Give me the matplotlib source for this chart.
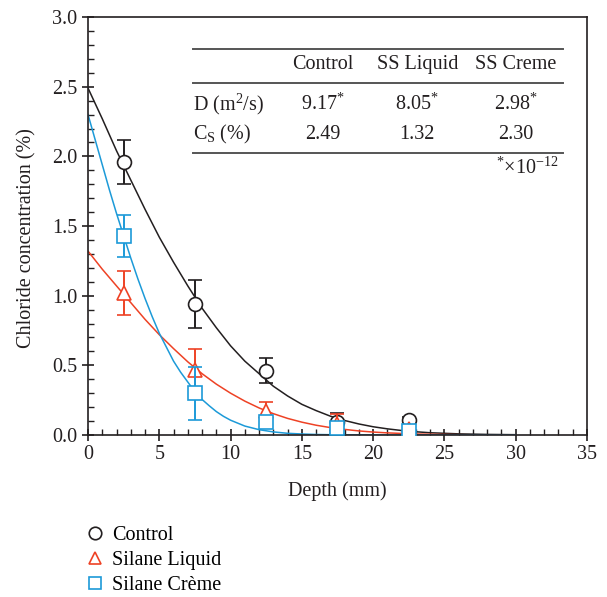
import numpy as np
import matplotlib
matplotlib.use("Agg")
import matplotlib.pyplot as plt
from matplotlib.lines import Line2D

plt.rcParams['font.family'] = ['Liberation Serif', 'DejaVu Serif']
plt.rcParams['mathtext.fontset'] = 'custom'
plt.rcParams['mathtext.rm'] = 'Liberation Serif'
plt.rcParams['mathtext.it'] = 'Liberation Serif:italic'

# measured points
depth = [2.5, 7.5, 12.5, 17.5, 22.5]
control = [1.96, 0.94, 0.46, 0.09, 0.11]
control_err = [0.16, 0.17, 0.09, 0.07, 0.02]
liquid = [1.02, 0.47, 0.17, 0.08, 0.04]
liquid_err = [0.16, 0.15, 0.07, 0.07, 0.02]
creme = [1.43, 0.30, 0.09, 0.05, 0.03]
creme_err = [0.15, 0.19, 0.03, 0.03, 0.01]

# fitted curves
fit_x = list(range(0, 31))
fit_control = [2.49, 2.27, 2.04, 1.83, 1.62, 1.42, 1.24, 1.07, 0.91, 0.77, 0.64,
               0.53, 0.44, 0.35, 0.28, 0.22, 0.175, 0.135, 0.104, 0.079, 0.059,
               0.044, 0.032, 0.023, 0.016, 0.012, 0.008, 0.006, 0.004, 0.003, 0.002]
fit_liquid = [1.32, 1.19, 1.07, 0.95, 0.83, 0.72, 0.62, 0.525, 0.44, 0.365, 0.30,
              0.243, 0.194, 0.153, 0.119, 0.092, 0.070, 0.053, 0.040, 0.029, 0.021,
              0.015, 0.011, 0.007, 0.005, 0.0034, 0.002, 0.0015, 0.001, 0.0007, 0.0005]
fit_creme_x = [0, 0.5, 1, 1.5, 2, 2.5, 3, 3.5, 4, 4.5, 5, 5.5, 6, 6.5, 7, 7.5, 8,
               8.5, 9, 9.5, 10, 11, 12, 13, 14, 15, 16, 17, 18, 20, 25, 30]
fit_creme = [2.30, 2.12, 1.94, 1.76, 1.59, 1.43, 1.27, 1.12, 0.98, 0.85, 0.73, 0.63,
             0.53, 0.45, 0.38, 0.31, 0.255, 0.21, 0.168, 0.134, 0.106, 0.064, 0.038,
             0.022, 0.012, 0.007, 0.0035, 0.002, 0.001, 0.0, 0.0, 0.0]

# table contents
col_heads = ['Control', 'SS Liquid', 'SS Creme']
d_vals = ['9.17$^{*}$', '8.05$^{*}$', '2.98$^{*}$']
cs_vals = ['2.49', '1.32', '2.30']

black = '#231f20'
red = '#ee4225'
blue = '#1c9ad8'
fs = 14.5

fig = plt.figure(figsize=(6.07, 5.97), dpi=100)
ax = fig.add_axes([0.145, 0.2714, 0.822, 0.700])

ax.plot(fit_x, fit_control, color=black, lw=1.1, zorder=2)
ax.plot(fit_x, fit_liquid, color=red, lw=1.1, zorder=2)
ax.plot(fit_creme_x, fit_creme, color=blue, lw=1.1, zorder=2)

ax.errorbar(depth, control, yerr=control_err, fmt='o', color=black, mfc='white',
            mec=black, ms=10, mew=1.2, capsize=5, elinewidth=1.4, capthick=1.4, zorder=3)
ax.errorbar(depth, liquid, yerr=liquid_err, fmt='^', color=red, mfc='white',
            mec=red, ms=10, mew=1.2, capsize=5, elinewidth=1.4, capthick=1.4, zorder=4)
ax.errorbar(depth, creme, yerr=creme_err, fmt='s', color=blue, mfc='white',
            mec=blue, ms=10, mew=1.2, capsize=5, elinewidth=1.4, capthick=1.4, zorder=5)

ax.set_xlim(0, 35)
ax.set_ylim(0, 3.0)
ax.set_xticks(np.arange(0, 36, 5))
ax.set_xticks(np.arange(0, 36, 1), minor=True)
ax.set_yticks(np.arange(0, 3.01, 0.5))
ax.set_yticks(np.arange(0, 3.01, 0.1), minor=True)
ax.set_yticklabels([f'{v:.1f}' for v in np.arange(0, 3.01, 0.5)])
ax.tick_params(which='major', direction='inout', length=9, width=1.2,
               labelsize=fs, colors=black, pad=3)
ax.tick_params(which='minor', direction='in', length=4, width=1.0, colors=black)
for s in ax.spines.values():
    s.set_linewidth(1.2)
    s.set_color(black)

ax.set_xlabel('Depth (mm)', fontsize=fs, color=black, labelpad=12)
ax.set_ylabel('Chloride concentration (%)', fontsize=fs, color=black)
ax.yaxis.set_label_coords(-0.104, 0.471)

# parameter table
tc = '#555555'
for yy in [2.771, 2.529, 2.024]:
    ax.plot([7.36, 33.3], [yy, yy], color=tc, lw=1.4, zorder=1)
col_x = [16.5, 23.1, 30.0]
for cx, h, d, c in zip(col_x, col_heads, d_vals, cs_vals):
    ax.text(cx, 2.656, h, ha='center', va='center', fontsize=fs, color=black)
    ax.text(cx, 2.376, d, ha='center', va='center', fontsize=fs, color=black)
    ax.text(cx, 2.154, c, ha='center', va='center', fontsize=fs, color=black)
ax.text(7.36, 2.376, 'D (m$^{2}$/s)', ha='left', va='center', fontsize=fs, color=black)
ax.text(7.36, 2.154, 'C$_{\\mathrm{S}}$ (%)', ha='left', va='center', fontsize=fs, color=black)
ax.text(33.0, 1.917, '$^{*}$$\\times$10$^{-12}$', ha='right', va='center', fontsize=fs, color=black)

handles = [
    Line2D([], [], ls='none', marker='o', ms=9, mfc='white', mec=black, mew=1.2),
    Line2D([], [], ls='none', marker='^', ms=9, mfc='white', mec=red, mew=1.2),
    Line2D([], [], ls='none', marker='s', ms=9, mfc='white', mec=blue, mew=1.2),
]
fig.legend(handles, ['Control', 'Silane Liquid', 'Silane Crème'],
           loc='upper left', bbox_to_anchor=(0.127, 0.133), frameon=False,
           fontsize=fs, handlelength=1.0, handletextpad=0.35, labelspacing=0.3,
           borderaxespad=0.0)

fig.savefig('out.png', dpi=100)
